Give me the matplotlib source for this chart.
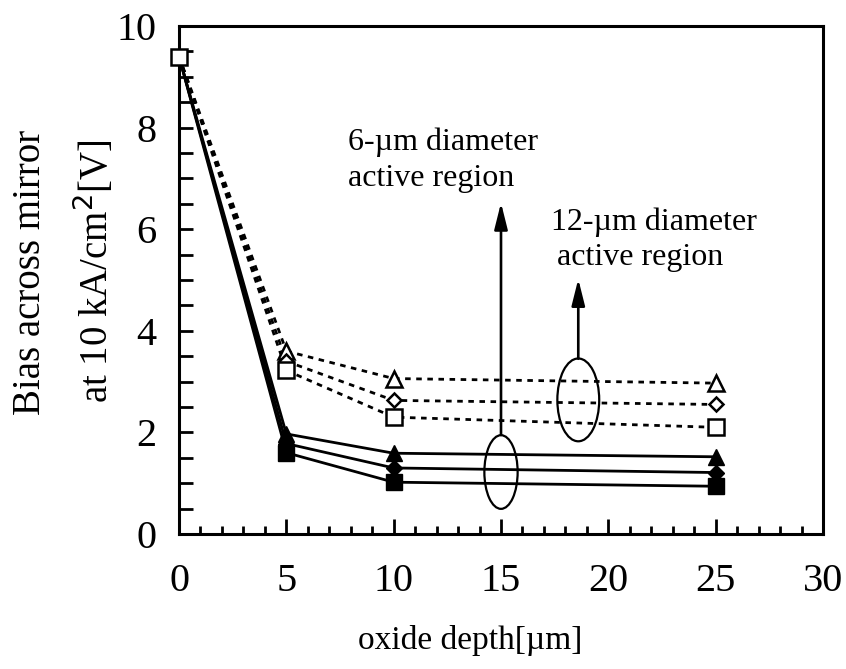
import matplotlib
matplotlib.use("Agg")
import matplotlib.pyplot as plt
from matplotlib.patches import Ellipse
from matplotlib.ticker import MultipleLocator

plt.rcParams['font.family'] = ['Liberation Serif', 'DejaVu Serif']

depth = [0, 5, 10, 25]

# 6-um diameter active region (filled markers, solid lines)
small_tri = [9.4, 1.97, 1.59, 1.52]
small_dia = [9.4, 1.78, 1.30, 1.21]
small_sq = [9.4, 1.60, 1.02, 0.94]

# 12-um diameter active region (open markers, dotted lines)
large_tri = [9.4, 3.60, 3.06, 2.97]
large_dia = [9.4, 3.40, 2.63, 2.55]
large_sq = [9.4, 3.22, 2.30, 2.10]

fig = plt.figure(figsize=(8.46, 6.69), dpi=100)
ax = fig.add_axes([0.2116, 0.2018, 0.9728 - 0.2116, 0.9611 - 0.2018])

dots = (0, (2.0, 2.0))
for ys, mk, ms in [(large_tri, '^', 11), (large_dia, 'D', 7.5), (large_sq, 's', 11)]:
    ax.plot(depth[1:], ys[1:], color='k', lw=2, ls=dots, zorder=2)
    ax.plot(depth[:2], ys[:2], color='k', lw=2, ls=dots, zorder=2)
    ax.plot(depth[1:], ys[1:], ls='none', marker=mk, ms=ms, mfc='white',
            mec='k', mew=1.8, zorder=4)

for ys, mk, ms in [(small_tri, '^', 12), (small_dia, 'D', 8), (small_sq, 's', 12)]:
    ax.plot(depth, ys, color='k', lw=2, zorder=3)
    ax.plot(depth[1:], ys[1:], ls='none', marker=mk, ms=ms, mfc='k',
            mec='k', zorder=4)

# common starting point
ax.plot([depth[0]], [large_sq[0]], ls='none', marker='s', ms=11, mfc='white',
        mec='k', mew=1.8, zorder=5, clip_on=False)

# grouping ellipses and arrows
ax.add_patch(Ellipse((15, 1.22), 1.55, 1.45, fill=False, ec='k', lw=1.6, zorder=5))
ax.add_patch(Ellipse((18.6, 2.64), 1.95, 1.63, fill=False, ec='k', lw=1.6, zorder=5))
arrow = dict(arrowstyle='-|>,head_length=1.6,head_width=0.4', color='k', lw=1.9,
             shrinkA=0, shrinkB=0)
ax.annotate('', xy=(15, 6.52), xytext=(15, 1.95), arrowprops=arrow)
ax.annotate('', xy=(18.6, 5.02), xytext=(18.6, 3.45), arrowprops=arrow)

ax.text(7.85, 7.72, '6-µm diameter', fontsize=23, va='center', ha='left')
ax.text(7.85, 7.0, 'active region', fontsize=23, va='center', ha='left')
ax.text(17.35, 6.14, '12-µm diameter', fontsize=23, va='center', ha='left')
ax.text(17.6, 5.45, 'active region', fontsize=23, va='center', ha='left')

ax.set_xlim(0, 30)
ax.set_ylim(0, 10)
ax.xaxis.set_major_locator(MultipleLocator(5))
ax.xaxis.set_minor_locator(MultipleLocator(1))
ax.yaxis.set_major_locator(MultipleLocator(2))
ax.yaxis.set_minor_locator(MultipleLocator(0.5))
ax.tick_params(axis='both', which='both', direction='in', width=2, labelsize=29)
ax.tick_params(axis='x', which='major', length=11, pad=21)
ax.tick_params(axis='x', which='minor', length=6)
ax.tick_params(axis='y', which='both', length=10, pad=16)
for sp in ax.spines.values():
    sp.set_linewidth(2.2)

fig.text(0.5556, 0.042, 'oxide depth[µm]', fontsize=24, ha='center', va='center')
fig.text(0.036, 0.593, 'Bias across mirror', fontsize=28, rotation=90,
         ha='center', va='center')
fig.text(0.112, 0.595, 'at 10 kA/cm$^2$[V]', fontsize=28, rotation=90,
         ha='center', va='center')

fig.savefig('out.png', dpi=100)
